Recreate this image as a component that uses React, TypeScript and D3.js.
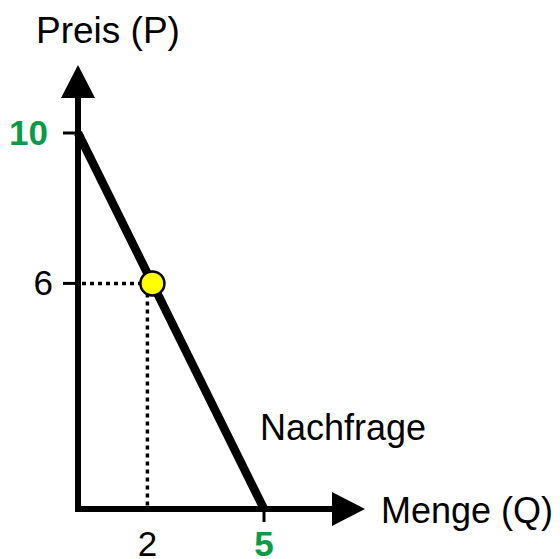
import React from "react";
import { scaleLinear, line } from "d3";

// demand curve: P = 10 - 2Q
const demandQ = [0, 5];
const demandP = [10, 0];

const pointQ = [2];
const pointP = [6];

const yTickValues = [10, 6];
const yTickColors = ["#0a9a48", "#000"];
const yTickBold = [true, false];
const xTickValues = [2, 5];
const xTickColors = ["#000", "#0a9a48"];
const xTickBold = [false, true];
const xTickMarks = [false, true];

const yAxisTitle = "Preis (P)";
const xAxisTitle = "Menge (Q)";
const curveLabel = "Nachfrage";

const width = 560,
  height = 559;
const font = "'Liberation Sans', Arial, Helvetica, sans-serif";

export default function App() {
  const xScale = scaleLinear().domain([0, 5]).range([78, 264]);
  const yScale = scaleLinear().domain([0, 10]).range([509, 133]);

  const x0 = xScale(0);
  const y0 = yScale(0);
  const yTop = 65;
  const xRight = 365;

  const demandLine = line<number>()
    .x((d, i) => xScale(demandQ[i]))
    .y((d) => yScale(d));

  return (
    <svg
      width={width}
      height={height}
      style={{ position: "absolute", left: 0, top: 0, background: "#fff" }}
      fontFamily={font}
    >
      {/* dotted guides */}
      {pointQ.map((q, i) => (
        <g key={"g" + i} stroke="#000" strokeWidth={3.5} strokeDasharray="4 4" fill="none">
          <line x1={x0 + 4} x2={xScale(q)} y1={yScale(pointP[i])} y2={yScale(pointP[i])} />
          <line x1={xScale(q) - 5} x2={xScale(q) - 5} y1={yScale(pointP[i]) + 10} y2={y0 - 3} />
        </g>
      ))}

      {/* axes */}
      <line x1={x0} x2={x0} y1={yTop + 30} y2={y0 + 3} stroke="#000" strokeWidth={6} />
      <line x1={x0 - 3} x2={xRight - 30} y1={y0} y2={y0} stroke="#000" strokeWidth={6} />
      <path d={`M${x0},${yTop} L${x0 + 17},${yTop + 33} L${x0 - 17},${yTop + 33} Z`} fill="#000" />
      <path d={`M${xRight},${y0} L${xRight - 33},${y0 - 17} L${xRight - 33},${y0 + 17} Z`} fill="#000" />

      {/* y ticks */}
      {yTickValues.map((v, i) => (
        <g key={"y" + v}>
          <line x1={x0 - 15} x2={x0} y1={yScale(v)} y2={yScale(v)} stroke="#000" strokeWidth={3} />
          <text
            x={x0 - (yTickBold[i] ? 30 : 25)}
            y={yScale(v) + 12}
            textAnchor="end"
            fontSize={35}
            fontWeight={yTickBold[i] ? "bold" : "normal"}
            fill={yTickColors[i]}
          >
            {v}
          </text>
        </g>
      ))}

      {/* x ticks */}
      {xTickValues.map((v, i) => (
        <g key={"x" + v}>
          {xTickMarks[i] && (
            <line x1={xScale(v)} x2={xScale(v)} y1={y0} y2={y0 + 13} stroke="#000" strokeWidth={3} />
          )}
          <text
            x={xScale(v) - (xTickMarks[i] ? 0 : 5)}
            y={y0 + 47}
            textAnchor="middle"
            fontSize={35}
            fontWeight={xTickBold[i] ? "bold" : "normal"}
            fill={xTickColors[i]}
          >
            {v}
          </text>
        </g>
      ))}

      {/* demand curve */}
      <path d={demandLine(demandP) || ""} fill="none" stroke="#000" strokeWidth={8.5} />

      {/* equilibrium point */}
      {pointQ.map((q, i) => (
        <circle key={"p" + i} cx={xScale(q)} cy={yScale(pointP[i])} r={12} fill="#ffff00" stroke="#000" strokeWidth={2.5} />
      ))}

      {/* titles */}
      <text x={36} y={43} fontSize={37} fill="#000">{yAxisTitle}</text>
      <text x={381} y={523} fontSize={36} fill="#000">{xAxisTitle}</text>
      <text x={260} y={440} fontSize={36} fill="#000">{curveLabel}</text>
    </svg>
  );
}
